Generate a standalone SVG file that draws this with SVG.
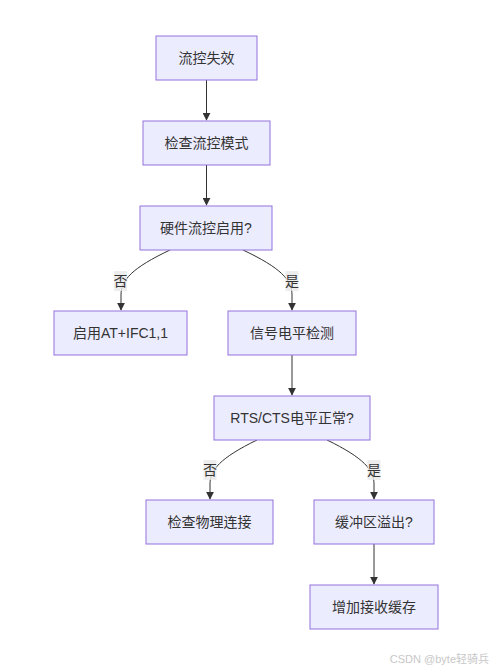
<svg xmlns="http://www.w3.org/2000/svg" width="493" height="671" viewBox="0 0 493 671">
<defs>
<style>
.node rect{fill:#ECECFF;stroke:#9370DB;stroke-width:1}
.node text{font-family:"Liberation Sans","Noto Sans CJK SC",sans-serif;font-size:14px;fill:#333;text-anchor:middle;dominant-baseline:central}
.edge{fill:none;stroke:#333;stroke-width:1}
.lbl rect{fill:#e8e8e8;fill-opacity:0.8;stroke:none}
.lbl text{font-family:"Liberation Sans","Noto Sans CJK SC",sans-serif;font-size:14px;fill:#333;text-anchor:middle;dominant-baseline:central}
.wm{font-family:"Liberation Sans","Noto Sans CJK SC",sans-serif;font-size:11px;fill:#c8c8c8}
</style>
<marker id="arrow" viewBox="0 0 10 10" refX="9" refY="5" markerWidth="8" markerHeight="8" markerUnits="userSpaceOnUse" orient="auto">
<path d="M0,0 L10,5 L0,10 z" fill="#333"/>
</marker>
</defs>
<rect width="493" height="671" fill="#ffffff"/>
<g id="connectors">
<path class="edge" d="M206.5,80 L206.5,120" marker-end="url(#arrow)"/>
<path class="edge" d="M206.5,165 L206.5,205" marker-end="url(#arrow)"/>
<path class="edge" d="M170,250 C132,268 121,280 121,295 L121,310" marker-end="url(#arrow)"/>
<path class="edge" d="M243,250 C281,268 292,280 292,295 L292,310" marker-end="url(#arrow)"/>
<path class="edge" d="M292,355 L292,395" marker-end="url(#arrow)"/>
<path class="edge" d="M257,440 C220,458 210,470 210,484 L210,499" marker-end="url(#arrow)"/>
<path class="edge" d="M327,440 C364,458 374,470 374,484 L374,499" marker-end="url(#arrow)"/>
<path class="edge" d="M374,544 L374,584" marker-end="url(#arrow)"/>
</g>
<g id="edge-labels">
<g class="lbl"><rect x="114" y="271" width="13" height="20"/><text x="120.5" y="281">否</text></g>
<g class="lbl"><rect x="285.5" y="271" width="13" height="20"/><text x="292" y="281">是</text></g>
<g class="lbl"><rect x="203.5" y="460" width="13" height="20"/><text x="210" y="470">否</text></g>
<g class="lbl"><rect x="367.5" y="460" width="13" height="20"/><text x="374" y="470">是</text></g>
</g>
<g id="n1" class="node"><rect x="156" y="36" width="101" height="44"/><text x="206.5" y="58">流控失效</text></g>
<g id="n2" class="node"><rect x="143" y="121" width="127" height="44"/><text x="206.5" y="143">检查流控模式</text></g>
<g id="n3" class="node"><rect x="140" y="206" width="132" height="44"/><text x="206" y="228">硬件流控启用?</text></g>
<g id="n4" class="node"><rect x="54" y="311" width="133" height="44"/><text x="120.5" y="333">启用AT+IFC1,1</text></g>
<g id="n5" class="node"><rect x="228" y="311" width="128" height="44"/><text x="292" y="333">信号电平检测</text></g>
<g id="n6" class="node"><rect x="214" y="396" width="156" height="44"/><text x="292" y="418">RTS/CTS电平正常?</text></g>
<g id="n7" class="node"><rect x="146" y="500" width="127" height="44"/><text x="209.5" y="522">检查物理连接</text></g>
<g id="n8" class="node"><rect x="314" y="500" width="120" height="44"/><text x="374" y="522">缓冲区溢出?</text></g>
<g id="n9" class="node"><rect x="310" y="585" width="128" height="44"/><text x="374" y="607">增加接收缓存</text></g>
<text class="wm" x="489" y="663" text-anchor="end">CSDN @byte轻骑兵</text>
</svg>
